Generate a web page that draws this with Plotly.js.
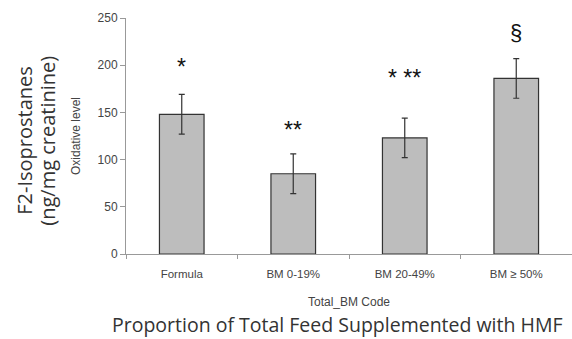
<!DOCTYPE html>
<html><head><meta charset="utf-8">
<script src="https://cdn.plot.ly/plotly-3.0.1.min.js"></script>
<style>html,body{margin:0;padding:0;background:#fff}#c{width:572px;height:339px}</style>
</head><body><div id="c"></div>
<script>
const categories = ["Formula", "BM 0-19%", "BM 20-49%", "BM \u2265 50%"];
const values = [148, 85, 123, 186];
const errors = [21, 21, 21, 21];
const markLabels = ["*", "**", "* **", "\u00a7"];
const markY = [198, 131, 186, 235];
const yTicks = [0, 50, 100, 150, 200, 250];

const trace = {
  type: "bar", x: categories, y: values, width: 0.4,
  marker: {color: "#bdbdbd", line: {color: "#333", width: 1.2}},
  error_y: {type: "data", array: errors, visible: true, color: "#333", thickness: 1.2, width: 3}
};
const anns = categories.map((c, i) => ({
  x: c, y: markY[i], xref: "x", yref: "y", text: markLabels[i], showarrow: false,
  font: {family: "Arial, Liberation Sans", size: markLabels[i] === "\u00a7" ? 22 : 23, color: "#111"}
}));
anns.push({xref: "paper", yref: "paper", x: (25 - 126) / 446, y: 0.48, text: "F2-Isoprostanes",
  textangle: -90, showarrow: false, font: {family: "Open Sans", size: 20, color: "#333"}, xanchor: "center", yanchor: "middle"});
anns.push({xref: "paper", yref: "paper", x: (48 - 126) / 446, y: 0.48, text: "(ng/mg creatinine)",
  textangle: -90, showarrow: false, font: {family: "Open Sans", size: 20, color: "#333"}, xanchor: "center", yanchor: "middle"});
anns.push({xref: "paper", yref: "paper", x: (337 - 126) / 446, y: -(325 - 254) / 236, text: "Proportion of Total Feed Supplemented with HMF",
  showarrow: false, font: {family: "Open Sans", size: 19.5, color: "#333"}, xanchor: "center", yanchor: "middle"});

const layout = {
  width: 572, height: 339,
  margin: {l: 126, r: 0, t: 18, b: 85},
  paper_bgcolor: "#fff", plot_bgcolor: "#fff",
  showlegend: false,
  font: {family: "Arial, Liberation Sans", size: 11, color: "#444"},
  xaxis: {type: "category", range: [-0.5, 3.5], showline: true, linecolor: "#999", linewidth: 1,
    ticks: "outside", tickson: "boundaries", ticklen: 4, tickcolor: "#999", showgrid: false,
    ticklabelstandoff: 9,
    tickfont: {size: 11.5, color: "#444"},
    title: {text: "Total_BM Code", font: {size: 12, color: "#444"}, standoff: 18}},
  yaxis: {range: [0, 250], tickvals: yTicks, showline: true, linecolor: "#999", linewidth: 1,
    ticks: "outside", ticklen: 5, tickcolor: "#999", showgrid: false, zeroline: false,
    tickfont: {size: 12, color: "#444"},
    title: {text: "Oxidative level", font: {size: 12, color: "#444"}, standoff: 14}},
  annotations: anns
};
Plotly.newPlot("c", [trace], layout, {staticPlot: true});
</script></body></html>
